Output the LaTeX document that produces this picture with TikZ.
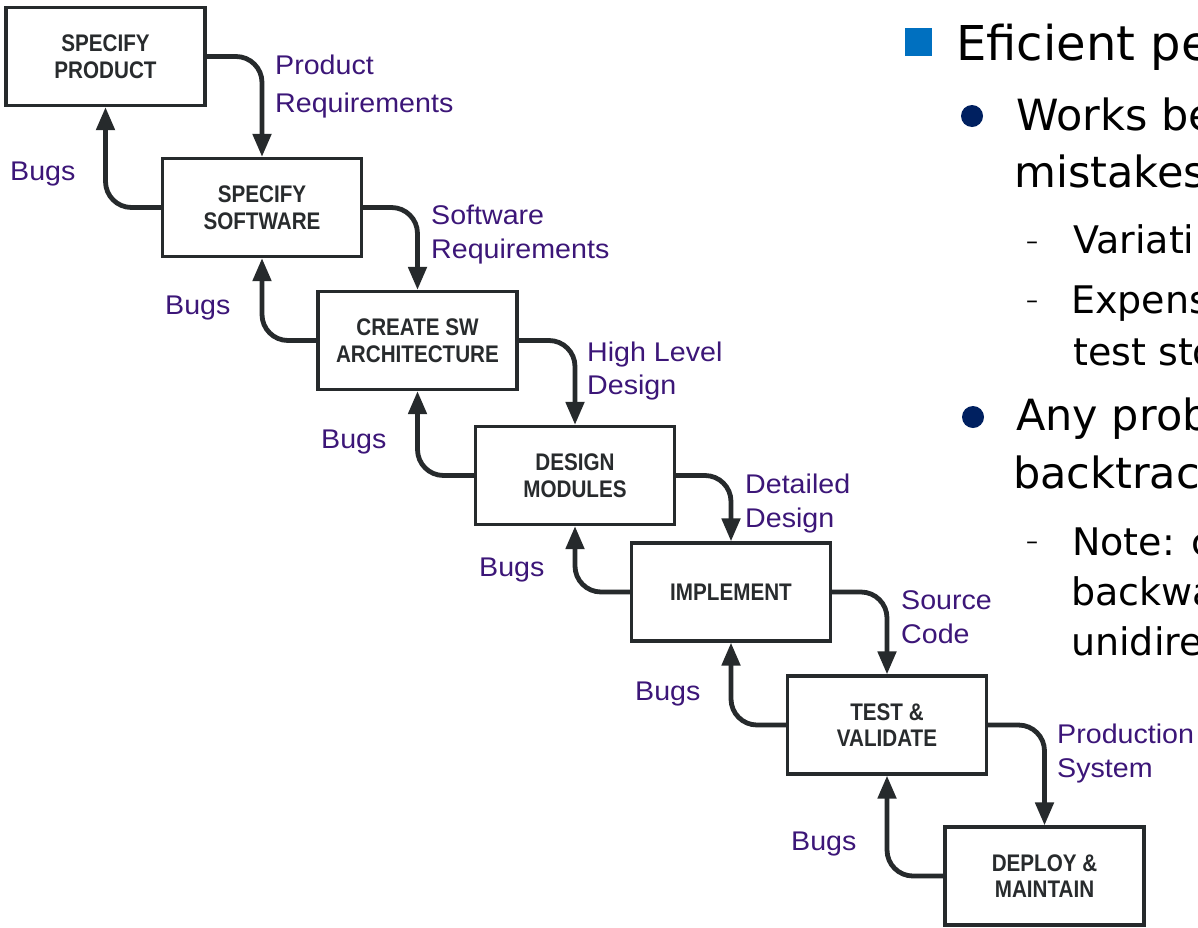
\documentclass[tikz,border=0pt]{standalone}
\usepackage{fontspec}
\setmainfont{Liberation Sans}
\newfontfamily\boxfont[FakeStretch=0.86]{Liberation Sans}
\newfontfamily\labelfont[FakeStretch=1.06]{Liberation Sans}
\newfontfamily\slidefont{DejaVu Sans}
\usetikzlibrary{arrows.meta}
\definecolor{linecol}{RGB}{38,42,44}
\definecolor{labelcol}{RGB}{60,22,120}
\definecolor{boxtext}{RGB}{40,43,45}
\definecolor{sqblue}{RGB}{0,112,192}
\definecolor{dotnavy}{RGB}{0,32,96}
\begin{document}
\begin{tikzpicture}[x=1pt,y=-1pt,
  stage/.style={draw=linecol, line width=3.2pt, minimum width=199pt, minimum height=98pt,
    inner sep=0pt, align=center, text=boxtext, font=\boxfont\bfseries\fontsize{24}{26.5}\selectfont},
  flow/.style={draw=linecol, line width=4.8pt, rounded corners=26pt,
    -{Triangle[length=23pt,width=18pt]}},
  lbl/.style={anchor=base west, text=labelcol, inner sep=0pt, font=\labelfont\fontsize{27}{32}\selectfont},
  slidea/.style={anchor=base west, inner sep=0pt, text=black, font=\slidefont\fontsize{48}{56}\selectfont},
  slideb/.style={anchor=base west, inner sep=0pt, text=black, font=\slidefont\fontsize{43}{50}\selectfont},
  slidec/.style={anchor=base west, inner sep=0pt, text=black, font=\slidefont\fontsize{38}{44}\selectfont},
  dashmark/.style={anchor=base west, inner sep=0pt, text=black, font=\slidefont\fontsize{24}{28}\selectfont},
  dotmark/.style={circle, fill=dotnavy, inner sep=0pt, minimum size=22pt},
]
\useasboundingbox (0,0) rectangle (1198,927);
\fill[white] (0,0) rectangle (1198,927);

% stages
\node[stage] (sp) at (105.5,56.5) {SPECIFY\\PRODUCT};
\node[stage] (ss) at (262,207.5) {SPECIFY\\SOFTWARE};
\node[stage] (ca) at (417.5,340.5) {CREATE SW\\ARCHITECTURE};
\node[stage] (dm) at (575,475.5) {DESIGN\\MODULES};
\node[stage] (im) at (731,592) {IMPLEMENT};
\node[stage] (tv) at (887,725) {TEST \&\\VALIDATE};
\node[stage] (dp) at (1044.5,876) {DEPLOY \&\\MAINTAIN};

% forward flows
\draw[flow] (sp.east) -| (ss.north);
\draw[flow] (ss.east) -| (ca.north);
\draw[flow] (ca.east) -| (dm.north);
\draw[flow] (dm.east) -| (im.north);
\draw[flow] (im.east) -| (tv.north);
\draw[flow] (tv.east) -| (dp.north);

% bug flows
\draw[flow] (ss.west) -| (sp.south);
\draw[flow] (ca.west) -| (ss.south);
\draw[flow] (dm.west) -| (ca.south);
\draw[flow] (im.west) -| (dm.south);
\draw[flow] (tv.west) -| (im.south);
\draw[flow] (dp.west) -| (tv.south);

% forward labels
\node[lbl] (l1a) at (275,74) {Product};
\node[lbl] (l1b) at (275,112) {Requirements};
\node[lbl] (l2a) at (431,224) {Software};
\node[lbl] (l2b) at (431,258) {Requirements};
\node[lbl] (l3a) at (587,361) {High Level};
\node[lbl] (l3b) at (587,394) {Design};
\node[lbl] (l4a) at (745,493) {Detailed};
\node[lbl] (l4b) at (745,527) {Design};
\node[lbl] (l5a) at (901,609) {Source};
\node[lbl] (l5b) at (901,643) {Code};
\node[lbl] (l6a) at (1057,743) {Production};
\node[lbl] (l6b) at (1057,777) {System};

% bug labels
\node[lbl] (b1) at (10,180) {Bugs};
\node[lbl] (b2) at (165,314) {Bugs};
\node[lbl] (b3) at (321,448) {Bugs};
\node[lbl] (b4) at (479,576) {Bugs};
\node[lbl] (b5) at (635,700) {Bugs};
\node[lbl] (b6) at (791,850) {Bugs};

% slide text (cut at the right edge)
\begin{scope}
\clip (0,0) rectangle (1198,927);
\fill[sqblue] (905,28) rectangle (932,56);
\node[slidea] (t1) at (956,60) {Eficient pe};
\node[dotmark] (d1) at (972,116) {};
\node[slideb] (t2) at (1016,130) {Works be};
\node[slideb] (t3) at (1014,187) {mistakes};
\node[dashmark] (m1) at (1026,249) {–};
\node[slidec] (t4) at (1073,253) {Variati};
\node[dashmark] (m2) at (1026,308) {–};
\node[slidec] (t5) at (1071,313) {Expens};
\node[slidec] (t6) at (1073,365) {test sto};
\node[dotmark] (d2) at (973,417) {};
\node[slideb] (t7) at (1016,430) {Any prob};
\node[slideb] (t8) at (1013,488) {backtrac};
\node[dashmark] (m3) at (1026,549) {–};
\node[slidec] (t9) at (1072,555) {Note: c};
\node[slidec] (t10) at (1071,605) {backwa};
\node[slidec] (t11) at (1071,655) {unidire};
\end{scope}
\end{tikzpicture}
\end{document}
